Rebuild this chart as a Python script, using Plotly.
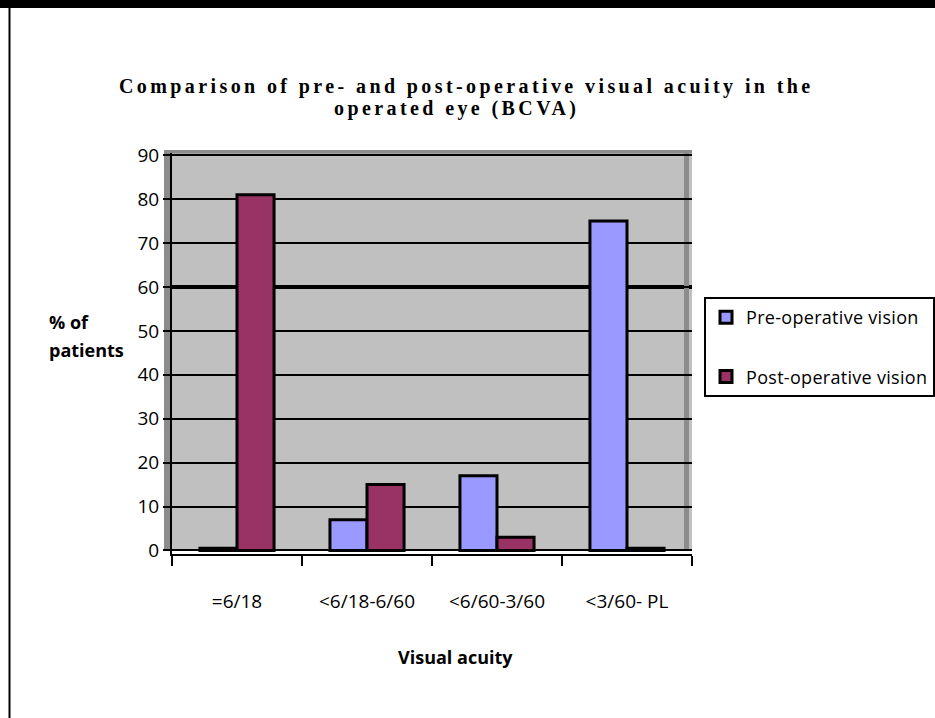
import plotly.graph_objects as go

categories = ["=6/18", "<6/18-6/60", "<6/60-3/60", "<3/60- PL"]
pre_operative = [0.5, 7, 17, 75]
post_operative = [81, 15, 3, 0.5]
series_names = ["Pre-operative vision", "Post-operative vision"]
y_ticks = [0, 10, 20, 30, 40, 50, 60, 70, 80, 90]
title_lines = ["Comparison of pre- and post-operative visual acuity in the",
               "operated eye (BCVA)"]

W, H = 935, 718
L, R, T, B = 172, 692, 153, 554  # plot area in pixels


def px(x):
    return (x - L) / (R - L)


def py(y):
    return (B - y) / (B - T)


SANS = "Open Sans"
SERIF = "Liberation Serif"


def spaced(t, sp):
    return f"<span style='letter-spacing:{sp}px'>{t}</span>"


fig = go.Figure()
fig.add_trace(go.Bar(
    x=categories, y=pre_operative, name=spaced(series_names[0], 0.3), legendgroup="a",
    marker=dict(color="#9999ff", line=dict(color="black", width=3)),
))
fig.add_trace(go.Bar(
    x=categories, y=post_operative, name=spaced(series_names[1], 0.3), legendgroup="b",
    marker=dict(color="#993366", line=dict(color="black", width=3)),
))

shapes = [
    dict(type="rect", xref="paper", yref="y", x0=0, x1=1, y0=-0.8, y1=0.2,
         fillcolor="white", line=dict(width=0), layer="between"),
    dict(type="line", xref="paper", yref="y", x0=0, x1=1, y0=60, y1=60,
         line=dict(color="black", width=4), layer="between"),
    dict(type="rect", xref="paper", yref="paper", x0=px(164), x1=px(170), y0=py(551), y1=py(150),
         fillcolor="#8c8c8c", line=dict(width=0), layer="below"),
    dict(type="rect", xref="paper", yref="paper", x0=px(164), x1=px(692), y0=py(153.5), y1=py(150),
         fillcolor="#8c8c8c", line=dict(width=0), layer="below"),
    dict(type="rect", xref="paper", yref="paper", x0=px(684), x1=px(689), y0=py(551), y1=py(150),
         fillcolor="#8c8c8c", line=dict(width=0), layer="between"),
    dict(type="rect", xref="paper", yref="paper", x0=px(0), x1=px(W), y0=py(8), y1=py(0),
         fillcolor="black", line=dict(width=0)),
    dict(type="line", xref="paper", yref="paper", x0=px(9.5), x1=px(9.5), y0=py(H), y1=py(8),
         line=dict(color="black", width=2)),
]

annotations = [
    dict(text="<b>" + spaced(title_lines[0], 3.4) + "</b>",
         xref="paper", yref="paper", x=px(466), y=py(86), showarrow=False,
         xanchor="center", yanchor="middle",
         font=dict(family=SERIF, size=20, color="black")),
    dict(text="<b>" + spaced(title_lines[1], 3.4) + "</b>",
         xref="paper", yref="paper", x=px(456), y=py(108.5), showarrow=False,
         xanchor="center", yanchor="middle",
         font=dict(family=SERIF, size=20, color="black")),
    dict(text="<b>% of</b>", xref="paper", yref="paper", x=px(47), y=py(322),
         showarrow=False, xanchor="left", yanchor="middle",
         font=dict(family=SANS, size=18, color="black")),
    dict(text="<b>patients</b>", xref="paper", yref="paper", x=px(47), y=py(350),
         showarrow=False, xanchor="left", yanchor="middle",
         font=dict(family=SANS, size=18, color="black")),
    dict(text="<b>Visual acuity</b>", xref="paper", yref="paper", x=px(455), y=py(657),
         showarrow=False, xanchor="center", yanchor="middle",
         font=dict(family=SANS, size=18, color="black")),
]

fig.update_layout(
    width=W, height=H,
    margin=dict(l=L, r=W - R, t=T, b=H - B, autoexpand=False),
    paper_bgcolor="white",
    plot_bgcolor="#c0c0c0",
    barmode="group", bargap=0.43, bargroupgap=0,
    showlegend=True,
    legend=dict(x=px(704), y=py(297), xanchor="left", yanchor="top",
                bordercolor="black", borderwidth=2, bgcolor="white",
                font=dict(family=SANS, size=18, color="black"),
                traceorder="grouped", tracegroupgap=33),
    shapes=shapes,
    annotations=annotations,
    font=dict(family=SANS, color="black"),
)
fig.update_xaxes(
    showline=True, linecolor="black", linewidth=1.5,
    ticks="outside", tickson="boundaries", ticklen=10, tickwidth=2, tickcolor="black",
    showgrid=False, ticklabelstandoff=29,
    tickfont=dict(family=SANS, size=19, color="black"),
)
fig.update_yaxes(
    range=[-0.8, 90.5], tickvals=y_ticks,
    showline=True, linecolor="black", linewidth=2,
    ticks="outside", ticklen=7, tickwidth=2, tickcolor="black",
    showgrid=True, gridcolor="black", gridwidth=1.5, zeroline=False,
    tickfont=dict(family=SANS, size=19, color="black"),
)

fig.write_html("out.html", config={"displayModeBar": False},
               post_script="document.body.style.margin='0';document.body.style.overflow='hidden';")
